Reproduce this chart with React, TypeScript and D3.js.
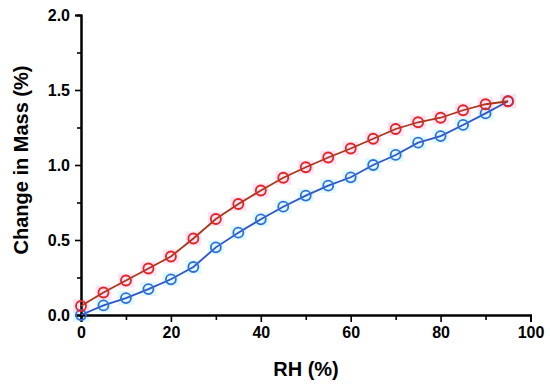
import React, {useEffect, useRef} from "react";
import * as d3 from "d3";

const rh = [0, 5, 10, 15, 20, 25, 30, 35, 40, 45, 50, 55, 60, 65, 70, 75, 80, 85, 90, 95]
const desorption = [0.06, 0.15, 0.23, 0.31, 0.39, 0.51, 0.64, 0.74, 0.83, 0.915, 0.985, 1.05, 1.11, 1.175, 1.24, 1.285, 1.315, 1.365, 1.405, 1.425]
const adsorption = [0.0, 0.064, 0.113, 0.173, 0.238, 0.32, 0.451, 0.549, 0.638, 0.722, 0.796, 0.862, 0.918, 1.0, 1.067, 1.149, 1.193, 1.267, 1.344, 1.425]
const xTicks = [0, 20, 40, 60, 80, 100]
const yTicks = [0, 0.5, 1.0, 1.5, 2.0]

const App = () => {
    const ref = useRef(null)

    useEffect(() => {
        const svg = d3.select(ref.current)
        svg.selectAll("*").remove()

        const margin = {top: 15, right: 20, bottom: 74, left: 81}
        const height = 389 - margin.top - margin.bottom

        const g = svg.append("g").attr("transform", `translate(${margin.left}, ${margin.top})`)

        const x = d3.scaleLinear().domain([0, 100]).range([0, 449.5])
        const y = d3.scaleLinear().domain([0, 2]).range([height, 0])

        const font = "'Liberation Sans', Arial, sans-serif"

        const series = [
            {values: adsorption, line: "#2f55c8", marker: "#2f6fd6", halo: "#d2f6ff"},
            {values: desorption, line: "#a8381a", marker: "#e0241e", halo: "#ffd6f2"},
        ]

        // faint halos behind the markers (as in the source image)
        for (const s of series) {
            g.selectAll(null)
                .data(rh.map((v, i) => [v, s.values[i]]))
                .enter()
                .append("rect")
                .attr("x", (d) => x(d[0]) - 8)
                .attr("y", (d) => y(d[1]) - 7)
                .attr("width", 16)
                .attr("height", 14)
                .attr("fill", s.halo)
                .attr("opacity", 0.7)
        }

        // minor ticks
        const xAxisMinor = g.append("g")
            .attr("transform", `translate(0, ${height})`)
            .call(d3.axisBottom(x).tickValues([10, 30, 50, 70, 90]).tickFormat(() => "").tickSize(5))
        const yAxisMinor = g.append("g")
            .call(d3.axisLeft(y).tickValues([0.25, 0.75, 1.25, 1.75]).tickFormat(() => "").tickSize(4))

        const xAxis = g.append("g")
            .attr("transform", `translate(0, ${height})`)
            .call(d3.axisBottom(x).tickValues(xTicks).tickFormat(d3.format("d")).tickSize(7).tickPadding(5))
        const yAxis = g.append("g")
            .call(d3.axisLeft(y).tickValues(yTicks).tickFormat(d3.format(".1f")).tickSize(6).tickPadding(5))

        for (const ax of [xAxis, yAxis, xAxisMinor, yAxisMinor]) {
            ax.select(".domain").attr("stroke-width", 2).attr("stroke", "#000")
            ax.selectAll(".tick line").attr("stroke-width", 1.6).attr("stroke", "#000")
            ax.selectAll("text")
                .attr("font-family", font)
                .attr("font-weight", "bold")
                .attr("font-size", 16)
                .attr("fill", "#000")
        }

        const lineGen = d3.line()
            .x((d) => x(d[0]))
            .y((d) => y(d[1]))

        for (const s of series) {
            const pts = rh.map((v, i) => [v, s.values[i]])
            g.append("path")
                .datum(pts)
                .attr("fill", "none")
                .attr("stroke", s.line)
                .attr("stroke-width", 1.8)
                .attr("d", lineGen)
            g.selectAll(null)
                .data(pts)
                .enter()
                .append("circle")
                .attr("cx", (d) => x(d[0]))
                .attr("cy", (d) => y(d[1]))
                .attr("r", 5)
                .attr("fill", "none")
                .attr("stroke", s.marker)
                .attr("stroke-width", 1.8)
        }

        svg.append("text")
            .attr("x", 306)
            .attr("y", 376)
            .attr("text-anchor", "middle")
            .attr("font-family", font)
            .attr("font-weight", "bold")
            .attr("font-size", 20)
            .text("RH (%)")

        svg.append("text")
            .attr("transform", "translate(28, 160) rotate(-90)")
            .attr("text-anchor", "middle")
            .attr("font-family", font)
            .attr("font-weight", "bold")
            .attr("font-size", 20)
            .text("Change in Mass (%)")
    }, [])

    return <svg ref={ref} width={550} height={389} style={{position: "absolute", left: 0, top: 0, background: "#fff"}}/>
}

export default App
